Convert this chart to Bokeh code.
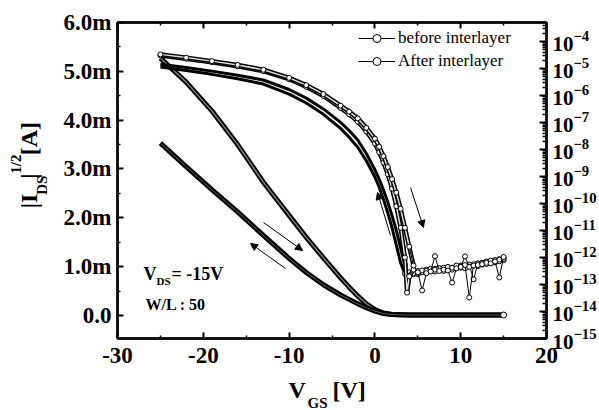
import math
import numpy as np
from bokeh.plotting import figure
from bokeh.layouts import row, column
from bokeh.models import (Range1d, LinearAxis, LogAxis, LogScale, FixedTicker,
                          CustomJSTickFormatter, Label, Arrow, NormalHead,
                          Legend, LegendItem)
from bokeh.core.properties import value
from bokeh.embed import file_html
from bokeh.resources import INLINE

FONT = "Liberation Serif"

# ---------------- data ----------------
# transfer curves on log scale (right axis), values are log10(I_DS / A)
v_before_fwd = [-25, -22, -19, -16, -13, -10, -8, -6, -4, -3, -2, -1, 0, 0.5, 1, 1.5, 2, 2.5, 3, 3.5, 4, 4.5,
                5, 5.5, 6, 6.5, 7, 7.5, 8, 8.5, 9, 9.5, 10, 10.5, 11, 11.5, 12, 12.5, 13, 13.5, 14, 14.5, 15]
logi_before_fwd = [-4.48, -4.60, -4.73, -4.87, -5.05, -5.35, -5.62, -5.95, -6.38, -6.60, -6.85, -7.20, -7.60,
                   -7.90, -8.25, -8.65, -9.10, -9.60, -10.20, -10.90, -11.60, -12.30,
                   -12.55, -13.22, -12.58, -12.52, -11.95, -12.50, -12.45, -12.48, -12.93, -12.40, -12.35,
                   -11.96, -12.35, -12.30, -12.28, -12.25, -12.20, -12.22, -12.15, -12.74, -11.98]

v_before_rev = [-25, -22, -19, -16, -13, -10, -8, -6, -4, -3, -2, -1, 0, 0.5, 1, 1.5, 2, 2.5, 3, 3.5, 3.75, 4,
                4.5, 5, 5.5, 6, 6.5, 7, 7.5, 8, 8.5, 9, 9.5, 10, 10.5, 11, 11.5, 12, 12.5, 13, 13.5, 14, 14.5, 15]
logi_before_rev = [-4.52, -4.64, -4.77, -4.92, -5.10, -5.40, -5.68, -6.02, -6.46, -6.70, -6.97, -7.33, -7.78,
                   -8.10, -8.48, -8.92, -9.45, -10.10, -10.90, -12.00, -13.30, -12.70,
                   -12.45, -12.60, -12.48, -12.50, -12.42, -12.45, -12.40, -12.38, -12.35, -12.38, -12.30,
                   -12.32, -12.28, -13.48, -12.25, -12.22, -12.20, -12.15, -12.12, -12.10, -12.08, -12.05]

v_after_a = [-25, -22, -19, -16, -13, -10, -8, -6, -4, -3, -2, -1, 0, 0.5, 1, 1.5, 2, 2.5, 3, 3.5,
             4, 4.5, 5, 5.5, 6, 6.5, 7, 7.5, 8, 8.5, 9, 9.5, 10, 10.5, 11, 11.5, 12, 12.5, 13, 13.5, 14, 14.5, 15]
logi_after_a = [-4.85, -4.97, -5.10, -5.25, -5.43, -5.78, -6.10, -6.50, -7.00, -7.30, -7.65, -8.15, -8.75,
                -9.10, -9.50, -9.95, -10.45, -11.00, -11.65, -12.30,
                -12.55, -12.62, -12.50, -12.52, -12.45, -12.48, -12.42, -12.40, -12.44, -12.36, -12.38,
                -12.33, -12.30, -12.32, -12.26, -12.81, -12.22, -12.20, -12.17, -12.14, -12.10, -12.06, -12.02]

v_after_b = [-25, -22, -19, -16, -13, -10, -8, -6, -4, -3, -2, -1, 0, 0.5, 1, 1.5, 2, 2.5, 3, 3.5,
             4, 4.5, 5, 5.5, 6, 6.5, 7, 7.5, 8, 8.5, 9, 9.5, 10, 10.5, 11, 11.5, 12, 12.5, 13, 13.5, 14, 14.5, 15]
logi_after_b = [-4.95, -5.08, -5.22, -5.38, -5.58, -5.95, -6.28, -6.70, -7.22, -7.55, -7.92, -8.42, -9.02,
                -9.40, -9.85, -10.35, -10.90, -11.55, -12.20, -12.60,
                -12.70, -12.58, -12.62, -12.55, -12.58, -12.50, -12.52, -12.48, -12.50, -12.44, -12.45,
                -12.40, -12.38, -12.40, -12.34, -12.30, -12.32, -12.26, -12.24, -12.20, -12.18, -12.14, -12.10]

# sqrt(I_DS) curves on linear scale (left axis), in units of 1e-3 A^0.5
v_sqrt = [-25, -22, -19, -16, -13, -10, -8, -6, -4, -3, -2, -1, 0, 1, 2, 4, 6, 8, 10, 12, 14, 15]
sqrt_before = [5.27, 4.78, 4.19, 3.50, 2.73, 2.05, 1.60, 1.18, 0.77, 0.58, 0.40, 0.24, 0.12, 0.05, 0.02,
               0.01, 0.01, 0.01, 0.01, 0.01, 0.01, 0.01]
sqrt_after = [3.53, 3.05, 2.58, 2.12, 1.64, 1.17, 0.88, 0.63, 0.42, 0.33, 0.24, 0.16, 0.09, 0.04, 0.02,
              0.01, 0.01, 0.01, 0.01, 0.01, 0.01, 0.01]

x_ticks = [-30, -20, -10, 0, 10, 20]
x_minor = [-25, -15, -5, 5, 15]
y_ticks = [0, 1, 2, 3, 4, 5, 6]          # x 1e-3
y_minor = [0.5, 1.5, 2.5, 3.5, 4.5, 5.5]
log_exps = list(range(-15, -3))          # 1e-15 ... 1e-4

legend_labels = ["before interlayer", "After interlayer"]

# ---------------- layout geometry (pixels) ----------------
W, H = 599, 410
STRIP_L = 50          # left strip holding the rotated y title
MAIN_H = 376          # height of main plot canvas
FR_L, FR_T, FR_R, FR_B = 117, 22, 546, 338   # frame edges (page pixels)

# ---------------- main figure ----------------
p = figure(width=W - STRIP_L, height=MAIN_H, x_range=Range1d(-30, 20), y_range=Range1d(-0.471e-3, 6.0e-3),
           output_backend="svg", toolbar_location=None,
           min_border_left=FR_L - STRIP_L, min_border_right=W - FR_R,
           min_border_top=FR_T, min_border_bottom=MAIN_H - FR_B)
p.xgrid.visible = False
p.ygrid.visible = False
p.outline_line_color = "black"
p.outline_line_width = 2
p.background_fill_color = "white"
p.border_fill_color = "white"

p.extra_y_ranges = {"log": Range1d(1e-15, 10 ** -3.30)}
p.extra_y_scales = {"log": LogScale()}


def style_axis(ax, size="23px"):
    ax.axis_line_width = 2.5
    ax.axis_line_color = "black"
    ax.major_tick_in = 6
    ax.major_tick_out = 0
    ax.minor_tick_in = 3
    ax.minor_tick_out = 0
    ax.major_tick_line_width = 2
    ax.minor_tick_line_width = 1.5
    ax.major_label_text_font = FONT
    ax.major_label_text_font_style = "bold"
    ax.major_label_text_font_size = size
    ax.major_label_text_color = "black"


xa = p.xaxis[0]
xa.ticker = FixedTicker(ticks=x_ticks, minor_ticks=x_minor)
xa.formatter = CustomJSTickFormatter(code="return tick.toFixed(0);")
style_axis(xa)
xa.major_label_standoff = 9

ya = p.yaxis[0]
ya.ticker = FixedTicker(ticks=[t * 1e-3 for t in y_ticks], minor_ticks=[t * 1e-3 for t in y_minor])
ya.formatter = CustomJSTickFormatter(
    code="return Math.abs(tick) < 1e-9 ? '0.0' : (tick*1000).toFixed(1) + 'm';")
style_axis(ya)
ya.major_label_standoff = 6

top = LinearAxis(ticker=FixedTicker(ticks=x_ticks, minor_ticks=x_minor),
                 formatter=CustomJSTickFormatter(code="return '';"))
style_axis(top)
top.major_label_standoff = 0
top.major_label_text_font_size = "1px"
p.add_layout(top, "above")

log_minor = []
for e in range(-15, -3):
    for k in range(2, 10):
        log_minor.append(k * 10.0 ** e)
ra = LogAxis(y_range_name="log",
             ticker=FixedTicker(ticks=[10.0 ** e for e in log_exps], minor_ticks=log_minor))
style_axis(ra, "21px")
ra.major_tick_in = 7
ra.minor_tick_in = 4
ra.major_label_standoff = 6
p.add_layout(ra, "right")

# ---------------- sqrt curves (left axis) ----------------
ys_b = [v * 1e-3 for v in sqrt_before]
ys_a = [v * 1e-3 for v in sqrt_after]
p.line(v_sqrt, ys_b, line_color="black", line_width=5)
p.line(v_sqrt, ys_b, line_color="#888888", line_width=1.3)
p.line(v_sqrt, ys_a, line_color="black", line_width=5)
p.line(v_sqrt, ys_a, line_color="#555555", line_width=1)
p.scatter([v_sqrt[-1]], [ys_b[-1]], marker="circle", size=6, fill_color="white", line_color="black")


# ---------------- log curves (right axis) ----------------
def split(v, l, vcut):
    v = np.array(v, float)
    i = 10.0 ** np.array(l, float)
    k = int((v <= vcut).sum())
    return v[:k + 1], i[:k + 1], v[k - 1:], i[k - 1:]


# after interlayer: dark double band
for v, l in ((v_after_a, logi_after_a), (v_after_b, logi_after_b)):
    v1, i1, v2, i2 = split(v, l, 3.0)
    p.line(v1, i1, y_range_name="log", line_color="black", line_width=3)
    p.line(v2, i2, y_range_name="log", line_color="black", line_width=1)
    p.scatter(v2[1:], i2[1:], y_range_name="log", marker="circle", size=5,
              fill_color="white", line_color="black", line_width=1)

# before interlayer: open-circle band
for v, l in ((v_before_rev, logi_before_rev), (v_before_fwd, logi_before_fwd)):
    v1, i1, v2, i2 = split(v, l, 4.0)
    p.line(v1, i1, y_range_name="log", line_color="black", line_width=4.5)
    p.line(v1, i1, y_range_name="log", line_color="#dddddd", line_width=1.5)
    p.line(v2, i2, y_range_name="log", line_color="black", line_width=1)
    p.scatter(np.array(v, float), 10.0 ** np.array(l, float), y_range_name="log", marker="circle",
              size=5, fill_color="white", line_color="black", line_width=1)

# ---------------- legend ----------------
items = []
for lab_text in legend_labels:
    r1 = p.line([-100, -99], [-1, -1], line_color="black", line_width=1)
    r2 = p.scatter([-100], [-1], marker="circle", size=4, fill_color="white", line_color="black")
    items.append(LegendItem(label=lab_text, renderers=[r1, r2]))
leg = Legend(items=items, location=(241, 267), border_line_alpha=0, background_fill_alpha=0,
             padding=0, margin=0, spacing=3, glyph_width=37, glyph_height=20, label_height=20,
             label_standoff=3, label_text_font=FONT, label_text_font_size="17px",
             label_text_color="black", label_text_baseline="middle")
p.add_layout(leg)


# ---------------- in-frame annotations ----------------
def px_x(px):
    return (px - FR_L) / ((FR_R - FR_L) / 50.0) - 30


def px_y(py):
    return (315 - py) / 48.83 * 1e-3


def lab(x, y, text, size, style="bold"):
    p.add_layout(Label(x=x, y=y, text=text, text_font=FONT, text_font_style=style,
                       text_font_size=size, text_baseline="middle", text_align="left",
                       text_color="black"))


lab(px_x(143), px_y(274), "V", "18px")
lab(px_x(156), px_y(281), "DS", "11px")
lab(px_x(171), px_y(274), "= -15V", "18px")
lab(px_x(145), px_y(304), "W/L : 50", "16px")


def arrow(x0, y0, x1, y1):
    p.add_layout(Arrow(end=NormalHead(size=7, line_color="black", fill_color="black", line_width=1),
                       x_start=px_x(x0), y_start=px_y(y0), x_end=px_x(x1), y_end=px_y(y1),
                       line_color="black", line_width=1))


arrow(263, 222, 302, 250)
arrow(285, 268, 250, 243)
arrow(390, 235, 377, 192)
arrow(410, 187, 423, 227)


# ---------------- axis titles (strips in page pixel coordinates) ----------------
def strip(w, h):
    s = figure(width=w, height=h, x_range=Range1d(0, w), y_range=Range1d(h, 0),
               x_axis_type=None, y_axis_type=None, output_backend="svg", toolbar_location=None,
               min_border=0, min_border_left=0, min_border_right=0, min_border_top=0,
               min_border_bottom=0)
    s.outline_line_color = None
    s.xgrid.visible = False
    s.ygrid.visible = False
    s.background_fill_color = "white"
    s.border_fill_color = "white"
    return s


def txt(s, x, y, t, size, angle=0.0):
    s.text(x=[x], y=[y], text=[t], text_font=value(FONT), text_font_style="bold",
           text_font_size=size, text_baseline="middle", text_align="left", angle=angle,
           text_color="black")


left = strip(STRIP_L, MAIN_H)
rot = math.pi / 2
txt(left, 28, 221, "|I", "24px", rot)
txt(left, 41, 205, "DS", "15px", rot)
txt(left, 28, 186, "|", "24px", rot)
txt(left, 15, 180, "1/2", "15px", rot)
txt(left, 28, 158, "[A]", "24px", rot)

bottom = strip(W, H - MAIN_H)
txt(bottom, 288, 389 - MAIN_H, "V", "24px")
txt(bottom, 307, 402 - MAIN_H, "GS", "15px")
txt(bottom, 332, 389 - MAIN_H, "[V]", "24px")

layout = column(row(left, p), bottom)
open("out.html", "w").write(file_html(layout, INLINE))
